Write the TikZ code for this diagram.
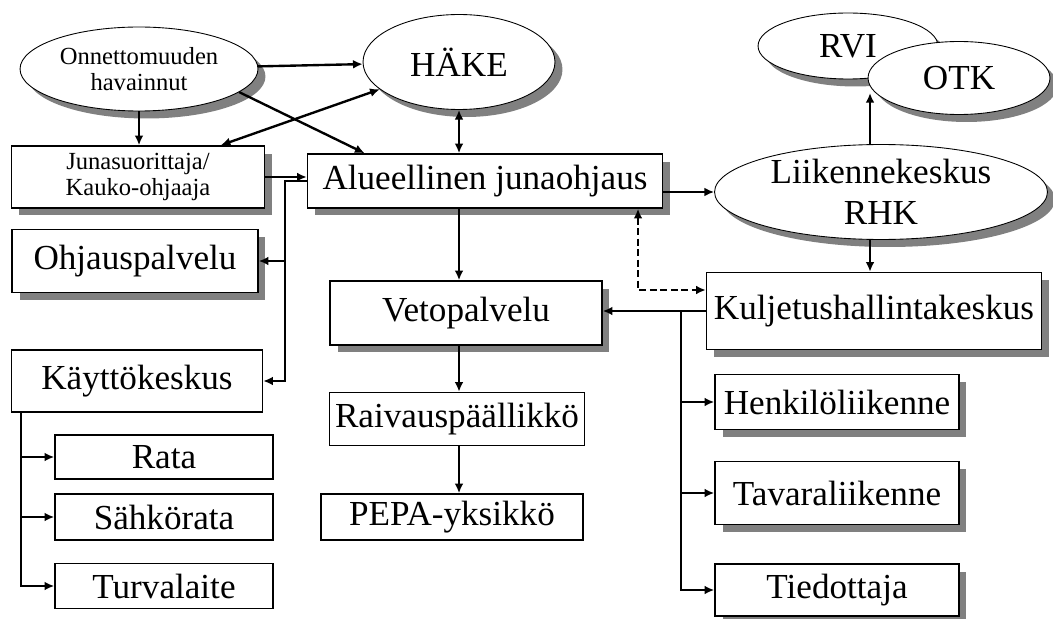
\documentclass[tikz,border=0pt]{standalone}
\usepackage{fontspec}
\setmainfont{Liberation Serif}
\usetikzlibrary{shapes.geometric, shadows, arrows.meta}

\begin{document}
\begin{tikzpicture}[x=0.02cm, y=-0.02cm,
  big/.style={font=\fontsize{20}{23}\selectfont},
  small/.style={font=\fontsize{14}{14.5}\selectfont, align=center},
  shad/.style={drop shadow={shadow xshift=0.15cm, shadow yshift=-0.15cm, fill=black!50, opacity=1}},
  box/.style={draw, line width=0.9pt, fill=white, inner sep=0, big},
  oval/.style={draw, ellipse, line width=0.5pt, fill=white, inner sep=0, big, shad},
  arr/.style={->, line width=1.35pt, >={Latex[length=5.5pt,width=5pt]}}]
\useasboundingbox (0,0) rectangle (1053,618);
\node[oval, small, minimum width=4.76cm, minimum height=1.68cm] (havainnut) at (139,69) {Onnettomuuden\\havainnut};
\node[oval, minimum width=3.84cm, minimum height=1.9cm] (hake) at (459,62) {HÄKE};
\node[oval, minimum width=3.6cm, minimum height=1.32cm] (rvi) at (848,46) {RVI};
\node[oval, minimum width=3.64cm, minimum height=1.46cm] (otk) at (959,78) {OTK};
\node[oval, align=center, minimum width=6.66cm, minimum height=1.9cm] (lk) at (881,192) {Liikennekeskus\\RHK};
\node[box, shad, small, minimum width=5.06cm, minimum height=1.24cm] (juna) at (138,177) {Junasuorittaja/\\Kauko-ohjaaja};
\node[box, shad, minimum width=7.1cm, minimum height=1.08cm] (alue) at (485,181) {Alueellinen junaohjaus};
\node[box, shad, minimum width=6.7cm, minimum height=1.54cm] (kulj) at (874,311) {Kuljetushallintakeskus};
\node[box, shad, minimum width=5.44cm, minimum height=1.28cm] (veto) at (466,313) {Vetopalvelu};
\node[box, minimum width=5.1cm, minimum height=1.06cm] (raiv) at (457,419) {Raivauspäällikkö};
\node[box, minimum width=5.24cm, minimum height=0.92cm] (pepa) at (452,517) {PEPA-yksikkö};
\node[box, shad, minimum width=4.88cm, minimum height=1.1cm] (henk) at (837,402) {Henkilöliikenne};
\node[box, shad, minimum width=4.88cm, minimum height=1.26cm] (tava) at (837,493) {Tavaraliikenne};
\node[box, shad, minimum width=4.88cm, minimum height=1.04cm] (tied) at (837,590) {Tiedottaja};
\node[box, shad, minimum width=4.92cm, minimum height=1.26cm] (ohj) at (135,261) {Ohjauspalvelu};
\node[box, minimum width=5.02cm, minimum height=1.24cm] (kayt) at (137,381) {Käyttökeskus};
\node[box, minimum width=4.36cm, minimum height=0.88cm] (rata) at (164,457) {Rata};
\node[box, minimum width=4.36cm, minimum height=0.92cm] (sahko) at (164,517) {Sähkörata};
\node[box, minimum width=4.36cm, minimum height=0.9cm] (turva) at (164,586) {Turvalaite};
\coordinate (lkup) at (870,93);
\coordinate (dash) at (638,290);
\coordinate (ktrunk) at (681,316);
\coordinate (atrunk) at (285,188);
\coordinate (ltrunk) at (21,412);
% Arrows
\draw[arr] (havainnut) -- (hake);
\draw[arr] (havainnut.-13) -- (alue.167);
\draw[arr] (havainnut.south) -- (havainnut.south |- juna.north);
\draw[arr, <->] (juna.21) -- (hake.199);
\draw[arr] (juna.east) -- (juna.east -| alue.west);
\draw[arr, <->] (hake.south) -- (hake.south |- alue.north);
\draw[arr] (hake.south |- alue.south) -- (hake.south |- veto.north);
\draw[arr] (hake.south |- veto.south) -- (hake.south |- raiv.north);
\draw[arr] (hake.south |- raiv.south) -- (hake.south |- pepa.north);
\draw[arr] (lk.west -| alue.east) -- (lk.west);
\draw[arr] (lkup |- lk.north) -- (lkup);
\draw[arr] (lkup |- lk.south) -- (lkup |- kulj.north);
\draw[arr, <->, dash pattern=on 4pt off 2pt] (dash |- alue.south) |- (kulj.west |- dash);
\draw[arr] (kulj.west) -- (kulj.west -| veto.east);
\draw[arr] (ktrunk |- kulj.west) |- (henk);
\draw[arr] (ktrunk |- kulj.west) |- (tava);
\draw[arr] (ktrunk |- kulj.west) |- (tied);
\draw[arr] (alue.west) -| (atrunk |- ohj) -- (ohj.east);
\draw[arr] (alue.west) -| (atrunk |- kayt) -- (kayt.east);
% Kaeyttoekeskus branches
\draw[arr] (ltrunk) |- (rata);
\draw[arr] (ltrunk) |- (sahko);
\draw[arr] (ltrunk) |- (turva);
\end{tikzpicture}
\end{document}
